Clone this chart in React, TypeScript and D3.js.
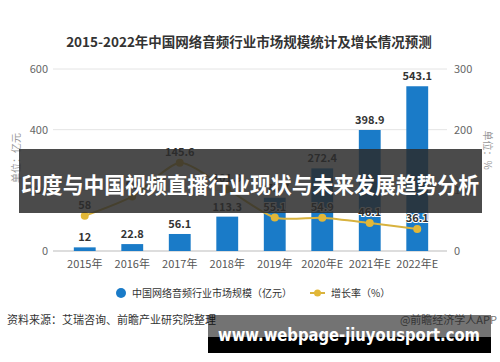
import * as d3 from "d3";
import { useEffect, useRef } from "react";

const years = ["2015年", "2016年", "2017年", "2018年", "2019年", "2020年E", "2021年E", "2022年E"];
const marketSize = [12, 22.8, 56.1, 113.3, 175.7, 272.4, 398.9, 543.1];
const growthRate = [58, 90, 145.6, 101.9, 55.1, 54.9, 46.1, 36.1];
const leftTicks = [0, 200, 400, 600];
const rightTicks = [0, 100, 200, 300];

const FONT = "'Noto Sans CJK SC', 'Noto Sans', sans-serif";

const App = () => {
  const svgRef = useRef<SVGSVGElement>(null);

  useEffect(() => {
    const width = 500;
    const height = 362;
    const svg = d3.select(svgRef.current);
    svg.selectAll("*").remove();

    svg.append("rect").attr("width", width).attr("height", height).attr("fill", "#fff");

    const x = d3
      .scaleBand()
      .domain(years)
      .range([61, 441])
      .paddingInner(0.54)
      .paddingOuter(0.27);
    const yL = d3.scaleLinear().domain([0, 600]).range([251, 69]);
    const yR = d3.scaleLinear().domain([0, 300]).range([251, 69]);
    const cx = (i: number) => x(years[i])! + x.bandwidth() / 2;

    svg
      .append("text")
      .attr("x", 249)
      .attr("y", 47)
      .attr("text-anchor", "middle")
      .attr("font-family", FONT)
      .attr("font-weight", "bold")
      .attr("font-size", 13.5)
      .attr("fill", "#333")
      .text("2015-2022年中国网络音频行业市场规模统计及增长情况预测");

    // grid
    svg
      .selectAll(".grid")
      .data(leftTicks)
      .join("line")
      .attr("x1", 53)
      .attr("x2", 447)
      .attr("y1", (d) => yL(d))
      .attr("y2", (d) => yL(d))
      .attr("stroke", (d) => (d === 0 ? "#bbb" : "#e4e4e4"))
      .attr("stroke-width", 1);

    svg
      .selectAll(".lt")
      .data(leftTicks)
      .join("text")
      .attr("x", 48)
      .attr("y", (d) => yL(d) + 4)
      .attr("text-anchor", "end")
      .attr("font-family", FONT)
      .attr("font-size", 11)
      .attr("fill", "#666")
      .text((d) => d);

    svg
      .selectAll(".rt")
      .data(rightTicks)
      .join("text")
      .attr("x", 454)
      .attr("y", (d) => yR(d) + 4)
      .attr("font-family", FONT)
      .attr("font-size", 11)
      .attr("fill", "#666")
      .text((d) => d);

    svg
      .append("text")
      .attr("transform", "translate(20,158) rotate(-90)")
      .attr("text-anchor", "middle")
      .attr("font-family", FONT)
      .attr("font-size", 10)
      .attr("fill", "#999")
      .text("单位：亿元");

    svg
      .append("text")
      .attr("transform", "translate(484,150) rotate(90)")
      .attr("text-anchor", "middle")
      .attr("font-family", FONT)
      .attr("font-size", 10)
      .attr("fill", "#999")
      .text("单位：%");

    // bars
    svg
      .selectAll(".bar")
      .data(marketSize)
      .join("rect")
      .attr("x", (_, i) => x(years[i])!)
      .attr("width", x.bandwidth())
      .attr("y", (d) => yL(d))
      .attr("height", (d) => yL(0) - yL(d))
      .attr("fill", "#1a7bc8");

    svg
      .selectAll(".barlab")
      .data(marketSize)
      .join("text")
      .attr("x", (_, i) => cx(i))
      .attr("y", (d) => yL(d) - 6)
      .attr("text-anchor", "middle")
      .attr("font-family", FONT)
      .attr("font-weight", "bold")
      .attr("font-size", 11)
      .attr("fill", "#333")
      .text((d) => d);

    // growth line
    const line = d3
      .line<number>()
      .x((_, i) => cx(i))
      .y((d) => yR(d))
      .curve(d3.curveCardinal.tension(0.3));

    svg
      .append("path")
      .datum(growthRate)
      .attr("fill", "none")
      .attr("stroke", "#d8b23e")
      .attr("stroke-width", 2)
      .attr("d", line);

    svg
      .selectAll(".dot")
      .data(growthRate)
      .join("circle")
      .attr("cx", (_, i) => cx(i))
      .attr("cy", (d) => yR(d))
      .attr("r", 4)
      .attr("fill", "#e2b737");

    svg
      .selectAll(".glab")
      .data(growthRate)
      .join("text")
      .attr("x", (_, i) => cx(i))
      .attr("y", (d) => yR(d) - 7)
      .attr("text-anchor", "middle")
      .attr("font-family", FONT)
      .attr("font-weight", "bold")
      .attr("font-size", 11)
      .attr("fill", "#333")
      .attr("stroke", "#fff")
      .attr("stroke-width", 2)
      .attr("paint-order", "stroke")
      .text((d) => d);

    // x labels
    svg
      .selectAll(".xl")
      .data(years)
      .join("text")
      .attr("x", (d) => x(d)! + x.bandwidth() / 2)
      .attr("y", 268)
      .attr("text-anchor", "middle")
      .attr("font-family", FONT)
      .attr("font-size", 11)
      .attr("fill", "#555")
      .text((d) => d);

    // legend
    svg.append("circle").attr("cx", 121).attr("cy", 293).attr("r", 5).attr("fill", "#1a7bc8");
    svg
      .append("text")
      .attr("x", 132)
      .attr("y", 297)
      .attr("font-family", FONT)
      .attr("font-size", 10)
      .attr("fill", "#333")
      .text("中国网络音频行业市场规模（亿元）");
    svg
      .append("line")
      .attr("x1", 310)
      .attr("x2", 325)
      .attr("y1", 293)
      .attr("y2", 293)
      .attr("stroke", "#d8b23e")
      .attr("stroke-width", 2);
    svg.append("circle").attr("cx", 317.5).attr("cy", 293).attr("r", 3.5).attr("fill", "#e2b737");
    svg
      .append("text")
      .attr("x", 331)
      .attr("y", 297)
      .attr("font-family", FONT)
      .attr("font-size", 10)
      .attr("fill", "#333")
      .text("增长率（%）");

    // footer
    svg
      .append("text")
      .attr("x", 7)
      .attr("y", 324)
      .attr("font-family", FONT)
      .attr("font-size", 11)
      .attr("fill", "#333")
      .text("资料来源：艾瑞咨询、前瞻产业研究院整理");
    svg
      .append("text")
      .attr("x", 497)
      .attr("y", 324)
      .attr("text-anchor", "end")
      .attr("font-family", FONT)
      .attr("font-size", 11)
      .attr("fill", "#777")
      .text("@前瞻经济学人APP");

    // overlay banner
    svg
      .append("rect")
      .attr("x", 19)
      .attr("y", 149)
      .attr("width", 463)
      .attr("height", 64)
      .attr("fill", "#2b2b2b")
      .attr("opacity", 0.85);
    svg
      .append("text")
      .attr("x", 21)
      .attr("y", 193)
      .attr("font-family", FONT)
      .attr("font-weight", "bold")
      .attr("font-size", 22)
      .attr("textLength", 458)
      .attr("lengthAdjust", "spacingAndGlyphs")
      .attr("fill", "#fff")
      .text("印度与中国视频直播行业现状与未来发展趋势分析");

    // bottom site banner
    svg
      .append("rect")
      .attr("x", 208)
      .attr("y", 315)
      .attr("width", 283)
      .attr("height", 22)
      .attr("fill", "#000")
      .attr("opacity", 0.55);
    svg
      .append("rect")
      .attr("x", 208)
      .attr("y", 337)
      .attr("width", 283)
      .attr("height", 16)
      .attr("fill", "#000");
    svg
      .append("text")
      .attr("x", 218)
      .attr("y", 341)
      .attr("font-family", "'DejaVu Sans', sans-serif")
      .attr("font-weight", "bold")
      .attr("font-size", 18)
      .attr("textLength", 262)
      .attr("lengthAdjust", "spacingAndGlyphs")
      .attr("fill", "#fff")
      .text("www.webpage-jiuyousport.com");
  }, []);

  return (
    <svg
      ref={svgRef}
      width={500}
      height={362}
      style={{ position: "absolute", left: 0, top: 0, display: "block" }}
    ></svg>
  );
};

export default App;
